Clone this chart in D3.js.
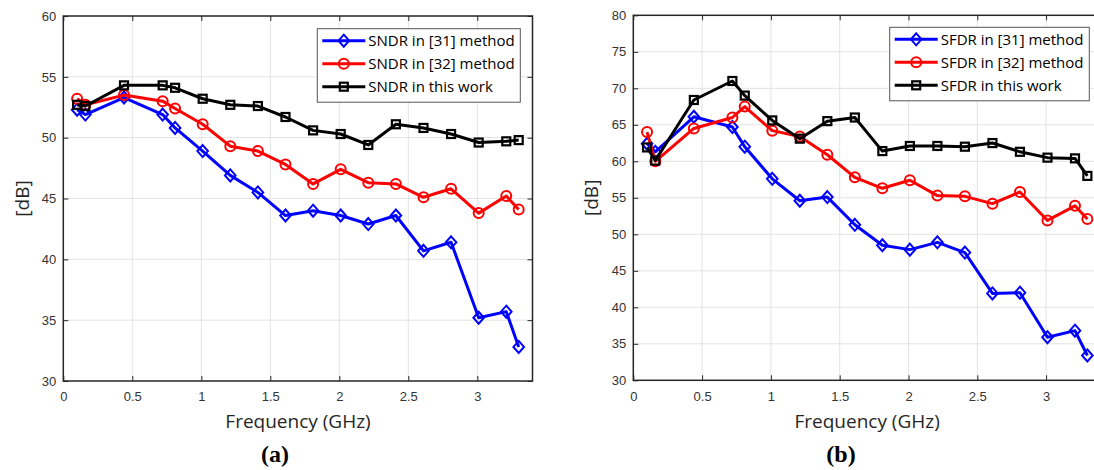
<!DOCTYPE html>
<html lang="en">
<head>
    <meta charset="UTF-8">
    <title>SNDR / SFDR versus frequency</title>
    <script src="https://d3js.org/d3.v7.min.js"></script>
    <style>
      body { margin: 0; background: #fff; }
      svg { display: block; }
      .tick text { font-family: 'Liberation Sans', Arial, sans-serif; font-size: 13px; fill: #333; }
      .axis-label { font-family: 'Open Sans', sans-serif; font-size: 19px; fill: #262626; }
      .legend text { font-family: 'Open Sans', sans-serif; font-size: 15px; fill: #000; }
      .caption { font-family: 'Liberation Serif', serif; font-weight: bold; font-size: 24px; fill: #000; }
    </style>
</head>
<body>
<div id="chart"></div>
<script>
    // Frequencies (GHz) shared by every series
    const freq = [0.1, 0.16, 0.44, 0.72, 0.81, 1.01, 1.21, 1.41, 1.61, 1.81, 2.01, 2.21, 2.41, 2.61, 2.81, 3.01, 3.21, 3.3];

    // (a) SNDR [dB]
    const sndr31   = [52.3, 51.9, 53.3, 51.9, 50.8, 48.9, 46.9, 45.5, 43.6, 44.0, 43.6, 42.9, 43.6, 40.7, 41.4, 35.2, 35.7, 32.8];
    const sndr32   = [53.2, 52.7, 53.5, 53.0, 52.4, 51.1, 49.3, 48.9, 47.8, 46.2, 47.4, 46.3, 46.2, 45.1, 45.8, 43.8, 45.2, 44.1];
    const sndrThis = [52.7, 52.6, 54.3, 54.3, 54.1, 53.2, 52.7, 52.6, 51.7, 50.6, 50.3, 49.4, 51.1, 50.8, 50.3, 49.6, 49.7, 49.8];

    // (b) SFDR [dB]
    const sfdr31   = [62.4, 61.3, 66.1, 64.7, 62.0, 57.6, 54.6, 55.1, 51.3, 48.5, 47.9, 48.9, 47.5, 41.9, 42.0, 35.9, 36.8, 33.4];
    const sfdr32   = [64.0, 60.0, 64.5, 66.0, 67.5, 64.2, 63.4, 60.9, 57.8, 56.3, 57.4, 55.3, 55.2, 54.2, 55.8, 51.9, 53.9, 52.1];
    const sfdrThis = [61.9, 60.1, 68.4, 71.0, 69.0, 65.6, 63.1, 65.5, 66.0, 61.4, 62.1, 62.1, 62.0, 62.5, 61.3, 60.5, 60.4, 58.0];

    // Tick values
    const xTicks = [0, 0.5, 1, 1.5, 2, 2.5, 3];
    const yTicksA = [30, 35, 40, 45, 50, 55, 60];
    const yTicksB = [30, 35, 40, 45, 50, 55, 60, 65, 70, 75, 80];

    const svg = d3.select("#chart")
        .append("svg")
        .attr("width", 1094)
        .attr("height", 470);

    function drawMarker(g, kind, cx, cy, color) {
        if (kind === "diamond") {
            g.append("path")
                .attr("d", `M${cx},${cy - 6}L${cx + 5.3},${cy}L${cx},${cy + 6}L${cx - 5.3},${cy}Z`)
                .attr("fill", "none").attr("stroke", color).attr("stroke-width", 2);
        } else if (kind === "circle") {
            g.append("circle")
                .attr("cx", cx).attr("cy", cy).attr("r", 5)
                .attr("fill", "none").attr("stroke", color).attr("stroke-width", 2);
        } else {
            g.append("rect")
                .attr("x", cx - 4).attr("y", cy - 4).attr("width", 8).attr("height", 8)
                .attr("fill", "none").attr("stroke", color).attr("stroke-width", 2.2);
        }
    }

    function panel(cfg) {
        const x = d3.scaleLinear().domain([0, 3.4]).range([cfg.left, cfg.left + 3.4 * cfg.pxPerGHz]);
        const y = d3.scaleLinear().domain(cfg.yDomain).range([cfg.bottom, cfg.top]);
        const right = x(3.4);

        const g = svg.append("g");

        // grid
        g.append("g").selectAll("line").data(xTicks.slice(1)).enter().append("line")
            .attr("x1", d => x(d)).attr("x2", d => x(d))
            .attr("y1", cfg.top).attr("y2", cfg.bottom)
            .attr("stroke", "#e3e3e3").attr("stroke-width", 1);
        g.append("g").selectAll("line").data(cfg.yTicks.slice(1, -1)).enter().append("line")
            .attr("x1", cfg.left).attr("x2", right)
            .attr("y1", d => y(d)).attr("y2", d => y(d))
            .attr("stroke", "#e3e3e3").attr("stroke-width", 1);

        // axes (ticks inward)
        g.append("g")
            .attr("transform", `translate(0,${cfg.bottom})`)
            .call(d3.axisBottom(x).tickValues(xTicks).tickSize(-5).tickPadding(11).tickFormat(d3.format("")))
            .call(a => a.select(".domain").remove())
            .call(a => a.selectAll(".tick line").attr("stroke", "#262626"));
        g.append("g")
            .attr("transform", `translate(${cfg.left},0)`)
            .call(d3.axisLeft(y).tickValues(cfg.yTicks).tickSize(-5).tickPadding(7))
            .call(a => a.select(".domain").remove())
            .call(a => a.selectAll(".tick line").attr("stroke", "#262626"));
        g.append("g")
            .attr("transform", `translate(0,${cfg.top})`)
            .call(d3.axisTop(x).tickValues(xTicks).tickSize(-5).tickFormat(""))
            .call(a => a.select(".domain").remove())
            .call(a => a.selectAll(".tick line").attr("stroke", "#262626"));
        g.append("g")
            .attr("transform", `translate(${right},0)`)
            .call(d3.axisRight(y).tickValues(cfg.yTicks).tickSize(-5).tickFormat(""))
            .call(a => a.select(".domain").remove())
            .call(a => a.selectAll(".tick line").attr("stroke", "#262626"));

        // box
        g.append("rect")
            .attr("x", cfg.left).attr("y", cfg.top)
            .attr("width", right - cfg.left).attr("height", cfg.bottom - cfg.top)
            .attr("fill", "none").attr("stroke", "#262626").attr("stroke-width", 1.5);

        // series
        const line = d3.line().x(d => x(d[0])).y(d => y(d[1]));
        cfg.series.forEach(s => {
            const pts = freq.map((f, i) => [f, s.values[i]]);
            g.append("path").datum(pts)
                .attr("d", line)
                .attr("fill", "none").attr("stroke", s.color).attr("stroke-width", 3)
                .attr("stroke-linejoin", "round");
            const mg = g.append("g");
            pts.forEach(p => drawMarker(mg, s.marker, x(p[0]), y(p[1]), s.color));
        });

        // axis labels
        g.append("text").attr("class", "axis-label")
            .attr("x", (cfg.left + cfg.labelRight) / 2).attr("y", 428)
            .attr("text-anchor", "middle")
            .text("Frequency (GHz)");
        g.append("text").attr("class", "axis-label")
            .attr("transform", `translate(${cfg.yLabelX},${(cfg.top + cfg.bottom) / 2}) rotate(-90)`)
            .attr("text-anchor", "middle")
            .text("[dB]");
        g.append("text").attr("class", "caption")
            .attr("x", cfg.captionX).attr("y", 462)
            .attr("text-anchor", "middle")
            .text(cfg.caption);

        // legend
        const lg = g.append("g").attr("class", "legend")
            .attr("transform", `translate(${cfg.legend[0]},${cfg.legend[1]})`);
        lg.append("rect")
            .attr("width", cfg.legend[2]).attr("height", 73.5)
            .attr("fill", "#fff").attr("stroke", "#555").attr("stroke-width", 1);
        cfg.series.forEach((s, i) => {
            const ly = 12 + i * 23;
            lg.append("line")
                .attr("x1", 5).attr("x2", 48).attr("y1", ly).attr("y2", ly)
                .attr("stroke", s.color).attr("stroke-width", 3);
            drawMarker(lg, s.marker, 26.5, ly, s.color);
            lg.append("text").attr("x", 51).attr("y", ly + 5.5).text(s.name);
        });
    }

    panel({
        left: 63.3, top: 16, bottom: 381, pxPerGHz: 138,
        yDomain: [30, 60], yTicks: yTicksA,
        labelRight: 532.7, yLabelX: 29, captionX: 275, caption: "(a)",
        legend: [317.3, 28.7, 203],
        series: [
            { name: "SNDR in [31] method", values: sndr31, color: "#0000ff", marker: "diamond" },
            { name: "SNDR in [32] method", values: sndr32, color: "#ff0000", marker: "circle" },
            { name: "SNDR in this work", values: sndrThis, color: "#000000", marker: "square" }
        ]
    });

    panel({
        left: 633.3, top: 15.3, bottom: 380.3, pxPerGHz: 137.6,
        yDomain: [30, 80], yTicks: yTicksB,
        labelRight: 1101, yLabelX: 598, captionX: 841, caption: "(b)",
        legend: [889.7, 27.3, 199.6],
        series: [
            { name: "SFDR in [31] method", values: sfdr31, color: "#0000ff", marker: "diamond" },
            { name: "SFDR in [32] method", values: sfdr32, color: "#ff0000", marker: "circle" },
            { name: "SFDR in this work", values: sfdrThis, color: "#000000", marker: "square" }
        ]
    });
</script>
</body>
</html>
